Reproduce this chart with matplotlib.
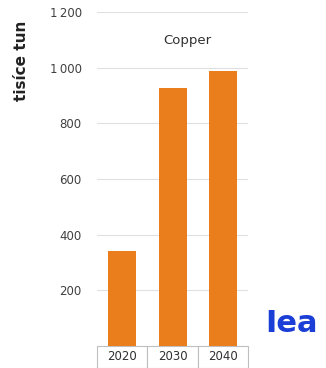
import matplotlib
matplotlib.use("Agg")
import matplotlib.pyplot as plt

years = ["2020", "2030", "2040"]
values = [340, 928, 988]
yticks = [200, 400, 600, 800, 1000, 1200]
ytick_labels = ["200", "400", "600", "800", "1\u2009000", "1\u2009200"]
title = "Copper"
ylabel = "tisíce tun"

fig = plt.figure(figsize=(3.26, 3.68), dpi=100)
ax = fig.add_axes([0.298, 0.06, 0.463, 0.907])

x = list(range(len(years)))
ax.bar(x, values, width=0.56, color="#EA7D1C", zorder=3)
ax.set_xlim(-0.5, 2.5)
ax.set_ylim(0, 1200)
ax.set_yticks(yticks)
ax.set_yticklabels(ytick_labels, fontsize=8.5, color="#404040")
ax.yaxis.grid(True, color="#e0e0e0", linewidth=0.8, zorder=0)
ax.tick_params(axis="y", length=0, pad=11)
ax.set_xticks([])
for s in ax.spines.values():
    s.set_visible(False)

ax.text(0.6, 0.915, title, transform=ax.transAxes, ha="center", va="center",
        fontsize=9.5, color="#303030")

fig.text(0.065, 0.835, ylabel, rotation=90, ha="center", va="center",
         fontsize=11, fontweight="bold", color="#222222")

tbl = ax.table(cellText=[years], loc="bottom", cellLoc="center",
               bbox=[0.0, -0.065, 1.0, 0.065])
tbl.auto_set_font_size(False)
for (r, c), cell in tbl.get_celld().items():
    cell.set_edgecolor("#bfbfbf")
    cell.set_linewidth(0.8)
    cell.get_text().set_fontsize(8.5)
    cell.get_text().set_color("#303030")

fig.text(0.815, 0.122, "Iea", ha="left", va="center", fontsize=22,
         fontweight="bold", color="#1B3FD6")

fig.savefig("out.png", dpi=100)
